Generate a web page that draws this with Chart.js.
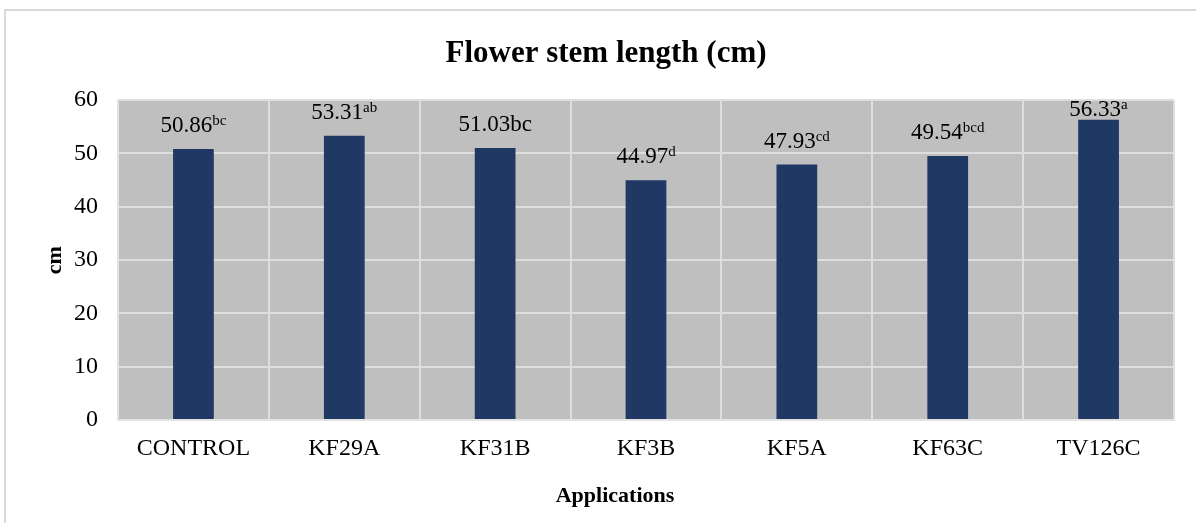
<!DOCTYPE html>
<html>
<head>
<meta charset="utf-8">
<script src="https://cdn.jsdelivr.net/npm/chart.js@4.4.1/dist/chart.umd.min.js"></script>
<style>
  html, body { margin: 0; padding: 0; background: #fff; overflow: hidden; }
  #box { position: absolute; left: 4px; top: 9px; border-left: 2px solid #d9d9d9; border-top: 2px solid #d9d9d9; }
  canvas { display: block; }
</style>
</head>
<body>
<div id="box"><canvas id="myChart" width="1200" height="520"></canvas></div>
<script>
// data
var categories = ['CONTROL', 'KF29A', 'KF31B', 'KF3B', 'KF5A', 'KF63C', 'TV126C'];
var stemLength = [50.86, 53.31, 51.03, 44.97, 47.93, 49.54, 56.33];
var valueText = ['50.86', '53.31', '51.03bc', '44.97', '47.93', '49.54', '56.33'];
var letters = ['bc', 'ab', '', 'd', 'cd', 'bcd', 'a'];
var yTicks = [0, 10, 20, 30, 40, 50, 60];

var FONT = "'Liberation Serif', 'Times New Roman', serif";

// grey plot background + value labels with superscript letters + x axis title
const plotDecor = {
    id: 'plotDecor',
    afterLayout: function(chart) {
        // title is centred on the whole canvas, not on the padded box
        if (chart.titleBlock) {
            chart.titleBlock.left = 0;
            chart.titleBlock.right = chart.width;
        }
    },
    beforeDraw: function(chart) {
        var a = chart.chartArea, ctx = chart.ctx;
        ctx.save();
        ctx.fillStyle = '#bfbfbf';
        ctx.fillRect(a.left, a.top, a.right - a.left, a.bottom - a.top);
        ctx.restore();
    },
    afterDraw: function(chart) {
        var ctx = chart.ctx, a = chart.chartArea;
        var meta = chart.getDatasetMeta(0);
        ctx.save();
        ctx.fillStyle = '#000';
        ctx.textBaseline = 'alphabetic';
        meta.data.forEach(function(bar, i) {
            var main = valueText[i];
            var sup = letters[i];
            ctx.font = '23px ' + FONT;
            var w1 = ctx.measureText(main).width;
            ctx.font = '15px ' + FONT;
            var w2 = sup ? ctx.measureText(sup).width : 0;
            var x0 = bar.x - (w1 + w2) / 2;
            var y = Math.max(bar.y - 17, a.top + 16);
            ctx.font = '23px ' + FONT;
            ctx.textAlign = 'left';
            ctx.fillText(main, x0, y);
            if (sup) {
                ctx.font = '15px ' + FONT;
                ctx.fillText(sup, x0 + w1, y - 7);
            }
        });
        // x axis title
        ctx.font = 'bold 22px ' + FONT;
        ctx.textAlign = 'center';
        ctx.textBaseline = 'middle';
        ctx.fillText('Applications', (a.left + a.right) / 2 - 31, 485);
        ctx.restore();
    }
};

const ctx = document.getElementById('myChart').getContext('2d');
const myChart = new Chart(ctx, {
    type: 'bar',
    data: {
        labels: categories,
        datasets: [
            {
                data: stemLength,
                backgroundColor: '#203864',
                barPercentage: 0.27,
                categoryPercentage: 1.0
            }
        ]
    },
    plugins: [plotDecor],
    options: {
        responsive: false,
        animation: false,
        layout: {
            padding: { left: 0, right: 32, top: 0, bottom: 0 }
        },
        plugins: {
            title: {
                display: true,
                text: 'Flower stem length (cm)',
                color: '#000',
                font: { family: FONT, size: 31, weight: 'bold' },
                padding: { top: 24, bottom: 28 }
            },
            legend: { display: false },
            tooltip: { enabled: false }
        },
        scales: {
            x: {
                afterFit: function(scale) { scale.height = 111; },
                grid: { color: '#dedede', lineWidth: 2, drawTicks: false, offset: true },
                border: { color: '#e3e3e3', width: 2 },
                ticks: {
                    color: '#000',
                    padding: 14,
                    font: { family: FONT, size: 24 }
                }
            },
            y: {
                min: 0,
                max: 60,
                afterFit: function(scale) { scale.width = 112; },
                afterBuildTicks: function(scale) {
                    scale.ticks = yTicks.map(function(v) { return { value: v }; });
                },
                grid: { color: '#dedede', lineWidth: 2, drawTicks: false },
                border: { color: '#e3e3e3', width: 2 },
                title: {
                    display: true,
                    text: 'cm',
                    color: '#000',
                    font: { family: FONT, size: 22, weight: 'bold' },
                    padding: { top: 36, bottom: 0 }
                },
                ticks: {
                    color: '#000',
                    padding: 20,
                    font: { family: FONT, size: 24 }
                }
            }
        }
    }
});
</script>
</body>
</html>
